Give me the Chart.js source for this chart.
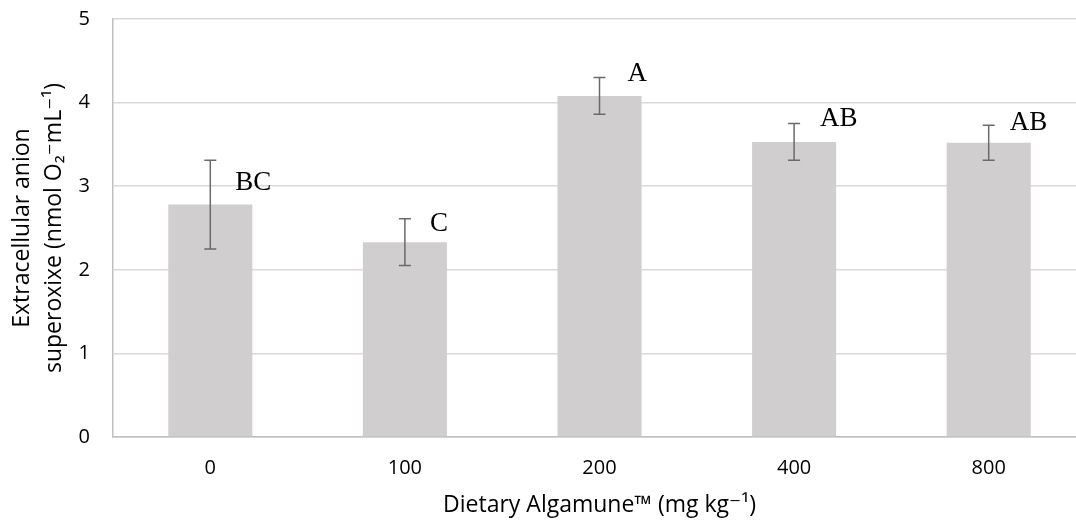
<!DOCTYPE html>
<html>
<head>
<meta charset="utf-8">
<script src="https://cdn.jsdelivr.net/npm/chart.js@4/dist/chart.umd.min.js"></script>
<style>
  html, body { margin: 0; padding: 0; background: #fff; overflow: hidden; }
  #wrap { width: 1086px; height: 527px; position: relative; }
</style>
</head>
<body>
<div id="wrap"><canvas id="superoxideChart"></canvas></div>
<script>
/* Extracellular anion superoxide by dietary Algamune level */

const doses = ['0', '100', '200', '400', '800'];
const superoxide = [2.78, 2.33, 4.08, 3.53, 3.52];
const superoxideSd = [0.53, 0.28, 0.22, 0.22, 0.21];
const letters = ['BC', 'C', 'A', 'AB', 'AB'];
const yTicks = [0, 1, 2, 3, 4, 5];

// where each letter sits: baseline in axis units, left edge as px right of bar centre
const LETTER_POS = [
    { y: 2.95, dx: 25 },
    { y: 2.47, dx: 25 },
    { y: 4.26, dx: 28 },
    { y: 3.72, dx: 26 },
    { y: 3.67, dx: 21 },
];

const AXIS_FONT = "'Open Sans', 'DejaVu Sans', sans-serif";

const errorBarPlugin = {
    id: 'errorBars',
    afterDatasetsDraw(chart) {
        const { ctx, scales: { x, y } } = chart;
        ctx.save();
        ctx.strokeStyle = '#6a6a6a';
        ctx.lineWidth = 1.5;
        superoxide.forEach((v, i) => {
            const cx = x.getPixelForValue(i);
            const top = y.getPixelForValue(v + superoxideSd[i]);
            const bot = y.getPixelForValue(v - superoxideSd[i]);
            ctx.beginPath();
            ctx.moveTo(cx, top); ctx.lineTo(cx, bot);
            ctx.moveTo(cx - 6, top); ctx.lineTo(cx + 6, top);
            ctx.moveTo(cx - 6, bot); ctx.lineTo(cx + 6, bot);
            ctx.stroke();
        });
        ctx.restore();
    },
};

const letterPlugin = {
    id: 'letters',
    afterDatasetsDraw(chart) {
        const { ctx, scales: { x, y } } = chart;
        ctx.save();
        ctx.fillStyle = '#000';
        ctx.font = "27px 'Liberation Serif', 'DejaVu Serif', serif";
        ctx.textAlign = 'left';
        ctx.textBaseline = 'alphabetic';
        letters.forEach((t, i) => {
            const p = LETTER_POS[i];
            ctx.fillText(t, x.getPixelForValue(i) + p.dx, y.getPixelForValue(p.y));
        });
        ctx.restore();
    },
};

new Chart(document.getElementById('superoxideChart'), {
    type: 'bar',
    data: {
        labels: doses,
        datasets: [{
            data: superoxide,
            backgroundColor: '#d0cece',
            borderWidth: 0,
            categoryPercentage: 1,
            barPercentage: 0.432,
        }],
    },
    options: {
        responsive: true,
        maintainAspectRatio: false,
        animation: false,
        layout: { padding: { top: 19, left: 0, right: 0, bottom: 0 } },
        scales: {
            x: {
                grid: { display: false, drawTicks: false },
                border: { color: '#bfbfbf', width: 1.5 },
                ticks: { color: '#000', padding: 19, font: { family: AXIS_FONT, size: 20 } },
                title: {
                    display: true,
                    text: 'Dietary Algamune™ (mg kg⁻¹)',
                    color: '#000',
                    padding: { top: 0, bottom: 8 },
                    font: { family: AXIS_FONT, size: 23 },
                },
                afterFit(scale) { scale.height = 90; },
            },
            y: {
                min: 0,
                max: 5,
                afterBuildTicks(scale) { scale.ticks = yTicks.map(v => ({ value: v })); },
                grid: { color: '#d9d9d9', lineWidth: 1.5, drawTicks: false },
                border: { color: '#bfbfbf', width: 1.5 },
                ticks: { color: '#000', padding: 23, font: { family: AXIS_FONT, size: 20 } },
                title: {
                    display: true,
                    text: ['Extracellular anion', 'superoxixe (nmol O₂⁻mL⁻¹)'],
                    color: '#000',
                    padding: { top: 6, bottom: 0 },
                    font: { family: AXIS_FONT, size: 23, lineHeight: 1.4 },
                },
                afterFit(scale) {
                    scale.width = 113;
                    // tick padding would otherwise push the plot top down
                    scale.paddingTop = 0;
                    scale.paddingBottom = 0;
                },
            },
        },
        plugins: {
            legend: { display: false },
            tooltip: { enabled: false },
        },
    },
    plugins: [errorBarPlugin, letterPlugin],
});
</script>
</body>
</html>
